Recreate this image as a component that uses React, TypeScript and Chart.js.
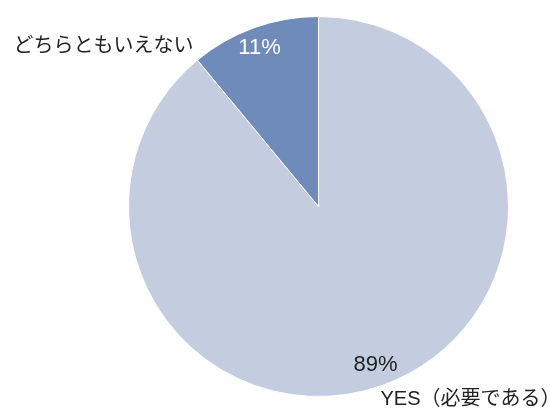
import React, { useEffect, useRef } from "react";
import { Chart, registerables } from "chart.js";

Chart.register(...registerables);

const categories = ["YES（必要である）", "どちらともいえない"];
const values = [89, 11];
const sliceColors = ["#c4cde0", "#6e8bba"];
const percentColors = ["#222222", "#ffffff"];

const FONT = '"Liberation Sans", "Noto Sans CJK JP", sans-serif';

const labelPlugin = {
  id: "sliceLabels",
  afterDatasetsDraw(chart: any) {
    const ctx = chart.ctx;
    const meta = chart.getDatasetMeta(0);
    const total = values.reduce((a, b) => a + b, 0);
    ctx.save();
    ctx.textBaseline = "middle";
    meta.data.forEach((arc: any, i: number) => {
      const { x, y, startAngle, endAngle, outerRadius } = arc.getProps(
        ["x", "y", "startAngle", "endAngle", "outerRadius"],
        true
      );
      const mid = (startAngle + endAngle) / 2;
      const px = x + Math.cos(mid) * outerRadius * 0.885;
      const py = y + Math.sin(mid) * outerRadius * 0.885;
      const pct = Math.round((values[i] / total) * 100) + "%";
      ctx.font = `22px ${FONT}`;
      ctx.fillStyle = percentColors[i];
      ctx.textAlign = "center";
      ctx.fillText(pct, i === 1 ? px - 2 : px, py);
      ctx.fillStyle = "#222222";
      ctx.font = `20px ${FONT}`;
      if (i === 0) {
        ctx.textAlign = "left";
        ctx.fillText(categories[i], px + 5, py + 35);
      } else {
        ctx.textAlign = "right";
        ctx.fillText(categories[i], px - 68, py - 2);
      }
    });
    ctx.restore();
  },
};

export default function App() {
  const ref = useRef<HTMLCanvasElement | null>(null);
  useEffect(() => {
    if (!ref.current) return;
    const chart = new Chart(ref.current, {
      type: "pie",
      data: {
        labels: categories,
        datasets: [
          {
            data: values,
            backgroundColor: sliceColors,
            borderColor: "#ffffff",
            borderWidth: 1,
          },
        ],
      },
      options: {
        responsive: false,
        animation: false,
        layout: { padding: { left: 128, right: 41, top: 16, bottom: 14 } },
        plugins: {
          legend: { display: false },
          tooltip: { enabled: false },
        },
      },
      plugins: [labelPlugin],
    });
    return () => chart.destroy();
  }, []);
  return (
    <div style={{ position: "fixed", left: 0, top: 0, width: 550, height: 411, background: "#fff" }}>
      <canvas ref={ref} width={550} height={411} />
    </div>
  );
}
